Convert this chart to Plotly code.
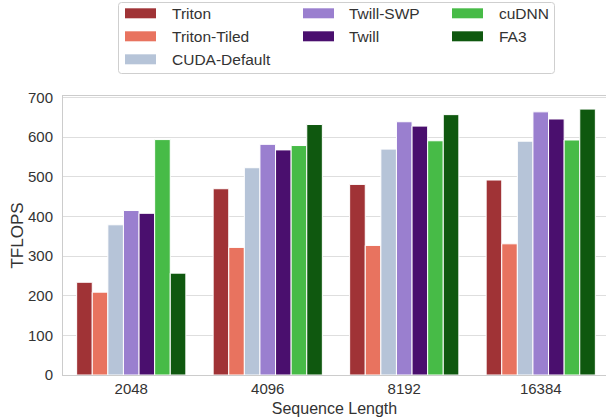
import plotly.graph_objects as go

categories = ["2048", "4096", "8192", "16384"]
series_names = ["Triton", "Triton-Tiled", "CUDA-Default", "Twill-SWP", "Twill", "cuDNN", "FA3"]
triton = [234, 470, 481, 492]
triton_tiled = [209, 322, 327, 331]
cuda_default = [379, 523, 570, 590]
twill_swp = [415, 582, 639, 664]
twill = [408, 568, 628, 646]
cudnn = [594, 579, 591, 593]
fa3 = [257, 632, 657, 671]
values = [triton, triton_tiled, cuda_default, twill_swp, twill, cudnn, fa3]
colors = ["#A03336", "#E8735F", "#B6C4D8", "#9A7FCF", "#4A0F6E", "#47BB47", "#0F580F"]
y_ticks = [0, 100, 200, 300, 400, 500, 600, 700]

FONT = "Arial, Liberation Sans, sans-serif"
TXT = "#333333"

fig = go.Figure()
for name, vals, col in zip(series_names, values, colors):
    fig.add_trace(go.Bar(x=categories, y=vals, name=name, marker_color=col,
                         marker_line=dict(color="white", width=1), showlegend=False))

W, H = 606, 417
L, T = 63, 96
R = 0
B = H - 375
pw, ph = W - L - R, H - T - B


def px(x):
    return (x - L) / pw


def py(y):
    return (H - B - y) / ph


shapes = []
annotations = []

# rounded legend frame
x0, x1, y0, y1 = 118.5, 554.5, 2.5, 73.5
r = 3
rx, ry = r / pw, r / ph
X0, X1, Y0, Y1 = px(x0), px(x1), py(y1), py(y0)
path = (f"M{X0+rx},{Y1} L{X1-rx},{Y1} Q{X1},{Y1} {X1},{Y1-ry} L{X1},{Y0+ry} Q{X1},{Y0} {X1-rx},{Y0} "
        f"L{X0+rx},{Y0} Q{X0},{Y0} {X0},{Y0+ry} L{X0},{Y1-ry} Q{X0},{Y1} {X0+rx},{Y1} Z")
shapes.append(dict(type="path", path=path, xref="paper", yref="paper",
                   line=dict(color="#cfcfcf", width=1), fillcolor="white", layer="above"))

# legend entries, column-wise fill (3 columns)
col_swatch_x = [125, 303, 452]
col_text_x = [170, 347, 497]
row_y = [13.3, 36.3, 59.3]
slots = [(0, 0), (0, 1), (0, 2), (1, 0), (1, 1), (2, 0), (2, 1)]
for name, col, (c, rr) in zip(series_names, colors, slots):
    yc = row_y[rr]
    sx = col_swatch_x[c]
    shapes.append(dict(type="rect", xref="paper", yref="paper",
                       x0=px(sx), x1=px(sx + 31), y0=py(yc + 5), y1=py(yc - 5),
                       fillcolor=col, line=dict(width=0), layer="above"))
    annotations.append(dict(text=name, xref="paper", yref="paper", x=px(col_text_x[c]), y=py(yc),
                            xanchor="left", yanchor="middle", showarrow=False,
                            font=dict(size=15.5, color=TXT, family=FONT)))

fig.update_layout(
    width=W, height=H,
    margin=dict(l=L, r=R, t=T, b=B, pad=0, autoexpand=False),
    plot_bgcolor="white", paper_bgcolor="white",
    font=dict(family=FONT, color=TXT, size=15),
    barmode="group", bargap=0.2, bargroupgap=0,
    showlegend=False,
    shapes=shapes, annotations=annotations,
    xaxis=dict(type="category", categoryorder="array", categoryarray=categories,
               range=[-0.5, 3.478], showgrid=False, showline=True, linecolor="#cccccc",
               linewidth=1, mirror=True, ticks="",
               automargin=False,
               tickfont=dict(size=15), title=dict(text="Sequence Length", font=dict(size=16), standoff=6)),
    yaxis=dict(range=[0, 704], tickvals=y_ticks, showgrid=True, gridcolor="#dedede", gridwidth=1,
               showline=True, linecolor="#cccccc", linewidth=1, mirror=True, zeroline=False,
               automargin=False,
               ticks="outside", ticklen=6, tickcolor="rgba(0,0,0,0)", tickfont=dict(size=15),
               title=dict(text="TFLOPS", font=dict(size=17), standoff=0)),
)

fig.write_html("out.html", config={"displayModeBar": False},
               post_script="document.body.style.margin='0';document.body.style.overflow='hidden';")
